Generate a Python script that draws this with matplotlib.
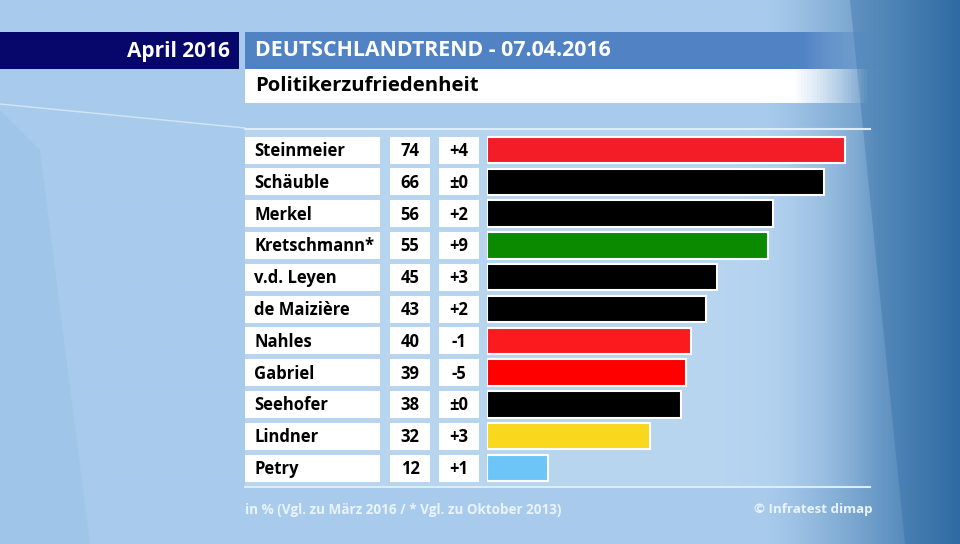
import numpy as np
import matplotlib
matplotlib.use("Agg")
from matplotlib import pyplot as plt
from matplotlib.patches import Rectangle, Polygon

names = ['Steinmeier', 'Schäuble', 'Merkel', 'Kretschmann*', 'v.d. Leyen', 'de Maizière',
         'Nahles', 'Gabriel', 'Seehofer', 'Lindner', 'Petry']
values = [74, 66, 56, 55, 45, 43, 40, 39, 38, 32, 12]
changes = ['+4', '±0', '+2', '+9', '+3', '+2', '-1', '-5', '±0', '+3', '+1']
colors = ['#f21d26', '#000000', '#000000', '#0b8a00', '#000000', '#000000',
          '#fb1b1f', '#ff0000', '#000000', '#f8d71c', '#6cc5f6']

plt.rcParams['font.family'] = ['Open Sans', 'DejaVu Sans']

W, H = 960, 544
fig = plt.figure(figsize=(9.6, 5.44), dpi=100)

# background in pixel coordinates
bg = fig.add_axes([0, 0, 1, 1])
bg.set_xlim(0, W)
bg.set_ylim(H, 0)
bg.axis('off')

xs = np.linspace(0, 1, 400)
light = np.array([168, 203, 236]) / 255
dark = np.array([48, 108, 163]) / 255
t = np.clip((xs - 0.80) / 0.20, 0, 1) ** 1.2
row = light[None, :] * (1 - t[:, None]) + dark[None, :] * t[:, None]
img = np.repeat(row[None, :, :], 10, axis=0)
bg.imshow(img, extent=[0, W, H, 0], aspect='auto', zorder=0)

# diagonal darker wedge on the right
bg.add_patch(Polygon([[850, 0], [960, 0], [960, 544], [905, 544]], closed=True,
                     facecolor='#2d6aa2', alpha=0.35, lw=0, zorder=1))
bg.add_patch(Polygon([[0, 110], [40, 150], [90, 544], [0, 544]], closed=True,
                     facecolor='#8fbfe6', alpha=0.35, lw=0, zorder=1))
bg.plot([0, 245], [104, 128], color='white', alpha=0.5, lw=1, zorder=1)

# lighter chart panel with fading right edge
pan = np.array([188, 216, 241]) / 255
px = np.linspace(0, 1, 200)
alpha = np.clip((1 - px) / 0.25, 0, 1) * 0.8
pimg = np.zeros((2, 200, 4))
pimg[..., :3] = pan
pimg[..., 3] = alpha
bg.imshow(pimg, extent=[245, 880, 487, 130], aspect='auto', zorder=1)
bg.plot([245, 870], [129, 129], color='#dcecf9', lw=1.5, zorder=2)
bg.plot([245, 870], [487, 487], color='#dcecf9', lw=1.5, zorder=2)

# header
bg.add_patch(Rectangle((0, 32), 239, 37, facecolor='#06066b', lw=0, zorder=3))
bg.text(230, 51, 'April 2016', color='white', fontsize=15, fontweight='bold',
        ha='right', va='center', zorder=4)

hb = np.zeros((2, 200, 4))
hb[..., :3] = np.array([80, 130, 196]) / 255
hb[..., 3] = np.clip((1 - np.linspace(0, 1, 200)) / 0.12, 0, 1)
bg.imshow(hb, extent=[245, 880, 69, 32], aspect='auto', zorder=3)
bg.text(255, 51, 'DEUTSCHLANDTREND - 07.04.2016', color='white', fontsize=15.4,
        fontweight='bold', ha='left', va='center', zorder=4)

wb = np.ones((2, 200, 4))
wb[..., 3] = np.clip((1 - np.linspace(0, 1, 200)) / 0.12, 0, 1)
bg.imshow(wb, extent=[245, 870, 103, 69], aspect='auto', zorder=3)
bg.text(255, 86, 'Politikerzufriedenheit', color='black', fontsize=14.6,
        fontweight='bold', ha='left', va='center', zorder=4)

# table boxes
y0, dy = 150, 31.8
for i, (n, v, c) in enumerate(zip(names, values, changes)):
    yc = y0 + i * dy
    for x1, x2, s, ha, tx in [(245, 380, n, 'left', 254), (390, 430, str(v), 'center', 410),
                               (439, 479, c, 'center', 459)]:
        bg.add_patch(Rectangle((x1, yc - 13.5), x2 - x1, 27, facecolor='white', lw=0, zorder=3))
        bg.text(tx, yc + 1, s, color='black', fontsize=12, fontweight='bold',
                ha=ha, va='center', zorder=4)

# footer
bg.text(245, 510, 'in % (Vgl. zu März 2016 / * Vgl. zu Oktober 2013)', color='#e9f3fc',
        fontsize=9.75, fontweight='bold', ha='left', va='center', zorder=4)
bg.text(872, 510, '© Infratest dimap', color='#e9f3fc', fontsize=9.6,
        fontweight='bold', ha='right', va='center', zorder=4)

# bars: 5.1 px per point, the longest bar is cut at the panel edge
k = 5.1
x_zero = 487
bar_cap = (845 - x_zero) / k
ax = fig.add_axes([x_zero / W, 1 - (y0 + 10.5 * dy) / H, (W - x_zero) / W, 11 * dy / H])
ax.set_xlim(0, (W - x_zero) / k)
ax.set_ylim(10.5, -0.5)
ax.barh(range(len(values)), np.minimum(values, bar_cap), height=0.83, color=colors,
        edgecolor='white', linewidth=1.5)
ax.axis('off')
ax.patch.set_alpha(0)

fig.savefig('out.png', dpi=100)
